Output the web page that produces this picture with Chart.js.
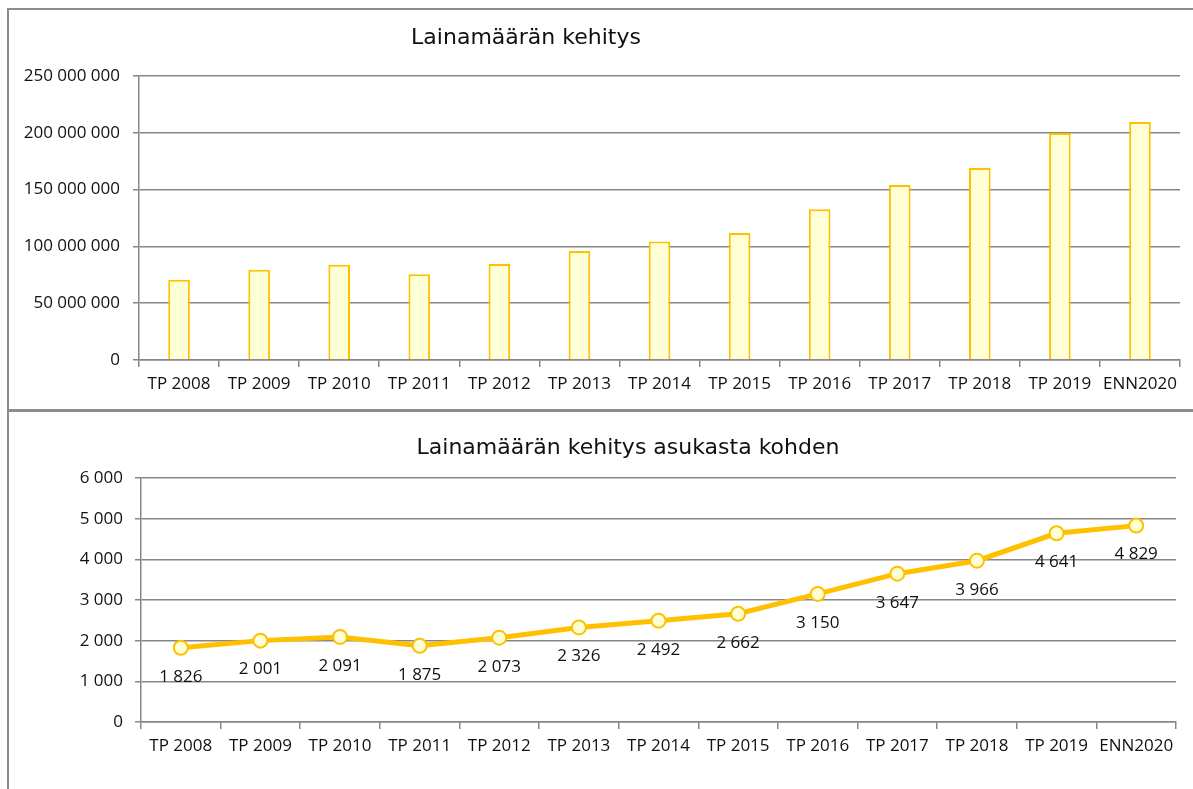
<!DOCTYPE html>
<html>
<head>
<meta charset="utf-8">
<script src="https://cdn.jsdelivr.net/npm/chart.js@4"></script>
<style>
  html, body { margin: 0; padding: 0; background: #fff; width: 1193px; height: 789px; overflow: hidden; }
  .line { position: absolute; background: #8c8c8c; }
  #c1wrap { position: absolute; left: 0; top: 0; width: 1193px; height: 410px; }
  #c2wrap { position: absolute; left: 0; top: 410px; width: 1193px; height: 379px; }
</style>
</head>
<body>
<div id="c1wrap"><canvas id="c1" width="1193" height="410"></canvas></div>
<div id="c2wrap"><canvas id="c2" width="1193" height="379"></canvas></div>
<div class="line" style="left:7px; top:8px; width:1186px; height:2px;"></div>
<div class="line" style="left:7px; top:8px; width:2px; height:781px;"></div>
<div class="line" style="left:7px; top:409px; width:1186px; height:3px;"></div>
<script>
const categories = ["TP 2008","TP 2009","TP 2010","TP 2011","TP 2012","TP 2013","TP 2014","TP 2015","TP 2016","TP 2017","TP 2018","TP 2019","ENN2020"];
const loanAmounts = [70700000, 79500000, 83900000, 75400000, 84500000, 95900000, 104400000, 111700000, 132700000, 154000000, 169000000, 199800000, 209500000];
const loanPerResident = [1826, 2001, 2091, 1875, 2073, 2326, 2492, 2662, 3150, 3647, 3966, 4641, 4829];
const title1 = "Lainamäärän kehitys";
const title2 = "Lainamäärän kehitys asukasta kohden";

const GRID = '#868686';
const GOLD = '#FFC000';
const PALE = '#FFFFD5';
const TEXT = '#111111';
const TICKFONT = { family: "'Open Sans', sans-serif", size: 17 };
const fmt = v => Math.round(v).toString().replace(/\B(?=(\d{3})+(?!\d))/g, ' ');

function titlePlugin(text, cx, cy) {
  return {
    id: 'customTitle',
    afterDraw(chart) {
      const ctx = chart.ctx;
      ctx.save();
      ctx.font = "22px 'DejaVu Sans', sans-serif";
      ctx.fillStyle = TEXT;
      ctx.textAlign = 'center';
      ctx.textBaseline = 'middle';
      ctx.fillText(text, cx, cy);
      ctx.restore();
    }
  };
}

const dataLabels = {
  id: 'dataLabels',
  afterDatasetsDraw(chart) {
    const ctx = chart.ctx;
    const meta = chart.getDatasetMeta(0);
    ctx.save();
    ctx.font = "17px 'Open Sans', sans-serif";
    ctx.fillStyle = TEXT;
    ctx.textAlign = 'center';
    ctx.textBaseline = 'middle';
    meta.data.forEach((pt, i) => {
      ctx.fillText(fmt(chart.data.datasets[0].data[i]), pt.x, pt.y + 29);
    });
    ctx.restore();
  }
};

function scalesFor(max, step, yWidth, xHeight, tickPad) {
  return {
    x: {
      offset: true,
      grid: { offset: true, drawOnChartArea: false, drawTicks: true, tickLength: 7, color: GRID, lineWidth: 1.5 },
      border: { display: true, color: GRID, width: 1.5 },
      ticks: { font: TICKFONT, color: TEXT, padding: 7, maxRotation: 0, autoSkip: false },
      afterFit(s) { s.height = xHeight; }
    },
    y: {
      min: 0, max: max,
      grid: { color: GRID, lineWidth: 1.5, tickLength: 6, drawTicks: true },
      border: { display: true, color: GRID, width: 1.5 },
      ticks: { stepSize: step, font: TICKFONT, color: TEXT, padding: tickPad, callback: v => fmt(v) },
      afterFit(s) { s.width = yWidth; }
    }
  };
}

new Chart(document.getElementById('c1'), {
  type: 'bar',
  data: {
    labels: categories,
    datasets: [{
      data: loanAmounts,
      backgroundColor: PALE,
      borderColor: GOLD,
      borderWidth: 2,
      barPercentage: 0.27,
      categoryPercentage: 1.0
    }]
  },
  options: {
    responsive: false,
    animation: false,
    layout: { padding: { left: 0, right: 13, top: 76, bottom: 0 } },
    plugins: { legend: { display: false }, tooltip: { enabled: false }, title: { display: false } },
    scales: scalesFor(250000000, 50000000, 139, 50, 13)
  },
  plugins: [titlePlugin(title1, 526, 38)]
});

new Chart(document.getElementById('c2'), {
  type: 'line',
  data: {
    labels: categories,
    datasets: [{
      data: loanPerResident,
      borderColor: GOLD,
      borderWidth: 5,
      pointRadius: 7,
      pointBorderWidth: 2,
      pointBackgroundColor: PALE,
      pointBorderColor: GOLD,
      tension: 0,
      fill: false
    }]
  },
  options: {
    responsive: false,
    animation: false,
    layout: { padding: { left: 0, right: 17, top: 68, bottom: 0 } },
    plugins: { legend: { display: false }, tooltip: { enabled: false }, title: { display: false } },
    scales: scalesFor(6000, 1000, 141, 67, 12)
  },
  plugins: [titlePlugin(title2, 628, 38), dataLabels]
});
</script>
</body>
</html>
